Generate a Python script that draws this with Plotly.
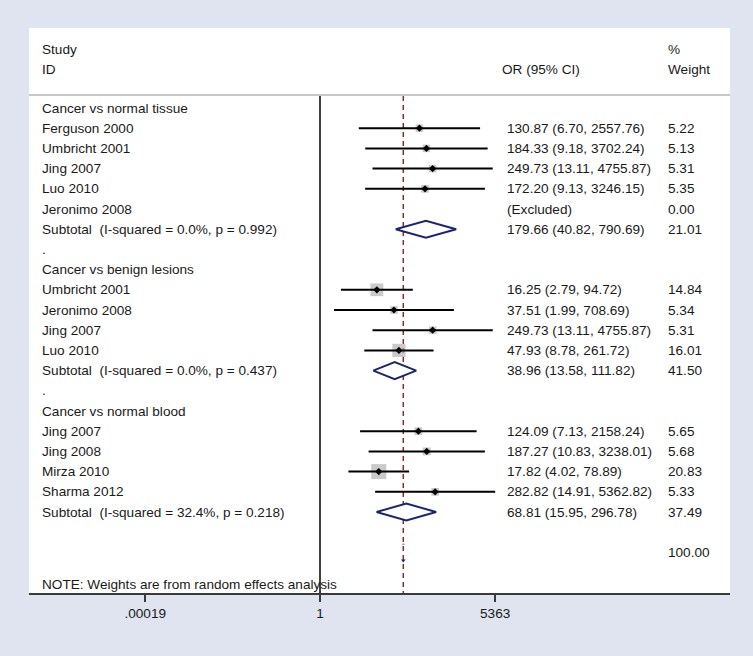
import math
import plotly.graph_objects as go

# ---------------- data ----------------
row_labels = [
    "Cancer vs normal tissue", "Ferguson 2000", "Umbricht 2001", "Jing 2007", "Luo 2010",
    "Jeronimo 2008", "Subtotal\u00a0 (I-squared = 0.0%, p = 0.992)", ".",
    "Cancer vs benign lesions", "Umbricht 2001", "Jeronimo 2008", "Jing 2007", "Luo 2010",
    "Subtotal\u00a0 (I-squared = 0.0%, p = 0.437)", ".",
    "Cancer vs normal blood", "Jing 2007", "Jing 2008", "Mirza 2010", "Sharma 2012",
    "Subtotal\u00a0 (I-squared = 32.4%, p = 0.218)", "", "",
]
row_types = [
    "head", "study", "study", "study", "study", "excl", "sub", "dot",
    "head", "study", "study", "study", "study", "sub", "dot",
    "head", "study", "study", "study", "study", "sub", "blank", "overall",
]
or_es = [None, 130.87, 184.33, 249.73, 172.20, None, 179.66, None,
         None, 16.25, 37.51, 249.73, 47.93, 38.96, None,
         None, 124.09, 187.27, 17.82, 282.82, 68.81, None, 59.3]
or_lci = [None, 6.70, 9.18, 13.11, 9.13, None, 40.82, None,
          None, 2.79, 1.99, 13.11, 8.78, 13.58, None,
          None, 7.13, 10.83, 4.02, 14.91, 15.95, None, None]
or_uci = [None, 2557.76, 3702.24, 4755.87, 3246.15, None, 790.69, None,
          None, 94.72, 708.69, 4755.87, 261.72, 111.82, None,
          None, 2158.24, 3238.01, 78.89, 5362.82, 296.78, None, None]
ci_text = ["", "130.87 (6.70, 2557.76)", "184.33 (9.18, 3702.24)", "249.73 (13.11, 4755.87)",
           "172.20 (9.13, 3246.15)", "(Excluded)", "179.66 (40.82, 790.69)", "",
           "", "16.25 (2.79, 94.72)", "37.51 (1.99, 708.69)", "249.73 (13.11, 4755.87)",
           "47.93 (8.78, 261.72)", "38.96 (13.58, 111.82)", "",
           "", "124.09 (7.13, 2158.24)", "187.27 (10.83, 3238.01)", "17.82 (4.02, 78.89)",
           "282.82 (14.91, 5362.82)", "68.81 (15.95, 296.78)", "", ""]
weights = [None, 5.22, 5.13, 5.31, 5.35, 0.00, 21.01, None,
           None, 14.84, 5.34, 5.31, 16.01, 41.50, None,
           None, 5.65, 5.68, 20.83, 5.33, 37.49, None, 100.00]
tick_vals = [0.00019, 1, 5363]
tick_text = [".00019", "1", "5363"]
note_text = "NOTE: Weights are from random effects analysis"

# ---------------- styling / layout constants ----------------
W, H = 753, 656
L, R, T, B = 29, 730, 28, 593
FONT = "Liberation Sans, Arial, sans-serif"
FS = 13.6
TXT = "#1a1a1a"
NAVY = "#1c2574"
MAROON = "#8b2a2a"
BG = "#dfe4f0"

# x axis range (log10), pixel 320 is OR=1, 20.40 px per ln unit
px_per_ln = 20.40
x_one_px = 320
xr = [((L - x_one_px) / px_per_ln) / math.log(10), ((R - x_one_px) / px_per_ln) / math.log(10)]
# y: row i at 108 + 20.2*i
row0, drow = 108, 20.2
def ypx_to_row(p):
    return (p - row0) / drow
yr = [ypx_to_row(B), ypx_to_row(T)]

def px(xp):
    return (xp - L) / (R - L)

n = len(row_labels)
rows = list(range(n))

fig = go.Figure()

# separator top of bracket & vertical lines
y_sep = ypx_to_row(95)
fig.add_trace(go.Scatter(x=[1, 1], y=[y_sep, yr[0]], mode="lines",
                         line=dict(color="black", width=1.5), hoverinfo="skip", showlegend=False))
overall = or_es[-1]
fig.add_trace(go.Scatter(x=[overall, overall], y=[y_sep + 0.05, yr[0]], mode="lines",
                         line=dict(color=MAROON, width=1.5, dash="5px,4px"),
                         hoverinfo="skip", showlegend=False))

# gray weight squares
sq_x, sq_y, sq_s = [], [], []
for i in rows:
    if row_types[i] == "study":
        sq_x.append(or_es[i]); sq_y.append(i); sq_s.append(3.3 * math.sqrt(weights[i]))
fig.add_trace(go.Scatter(x=sq_x, y=sq_y, mode="markers",
                         marker=dict(symbol="square", size=sq_s, color="#b4b4b4", line=dict(width=0)),
                         hoverinfo="skip", showlegend=False))

# CI lines
lx, ly = [], []
for i in rows:
    if row_types[i] == "study":
        lx += [or_lci[i], or_uci[i], None]; ly += [i, i, None]
fig.add_trace(go.Scatter(x=lx, y=ly, mode="lines", line=dict(color="black", width=2),
                         hoverinfo="skip", showlegend=False))

# point estimates
fig.add_trace(go.Scatter(x=sq_x, y=sq_y, mode="markers",
                         marker=dict(symbol="diamond", size=5.5, color="black"),
                         hoverinfo="skip", showlegend=False))

# subtotal diamonds
half = 0.42
for i in rows:
    if row_types[i] == "sub":
        fig.add_trace(go.Scatter(
            x=[or_lci[i], or_es[i], or_uci[i], or_es[i], or_lci[i]],
            y=[i, i - half, i, i + half, i],
            mode="lines", line=dict(color=NAVY, width=2), fill="toself", fillcolor="white",
            hoverinfo="skip", showlegend=False))

# overall diamond remnants (tiny tips)
oi = n - 1
fig.add_trace(go.Scatter(x=[overall], y=[oi + 0.4], mode="markers",
                         marker=dict(symbol="triangle-down", size=4, color=NAVY),
                         hoverinfo="skip", showlegend=False))
fig.add_trace(go.Scatter(x=[overall], y=[oi - 0.4], mode="markers",
                         marker=dict(symbol="triangle-up", size=3, color="#9aa0c8"),
                         hoverinfo="skip", showlegend=False))

ann = []
def add_text(x, y, t, xa="left"):
    ann.append(dict(x=x, y=y, xref="paper", yref="y", text=t, showarrow=False,
                    xanchor=xa, yanchor="middle", font=dict(family=FONT, size=FS, color=TXT)))

# headers
add_text(px(40), ypx_to_row(49), "Study")
add_text(px(40), ypx_to_row(69), "ID")
add_text(px(500), ypx_to_row(69), "OR (95% CI)")
add_text(px(666), ypx_to_row(49), "%")
add_text(px(666), ypx_to_row(69), "Weight")

for i in rows:
    if row_labels[i]:
        add_text(px(40), i, row_labels[i])
    if ci_text[i]:
        add_text(px(505), i, ci_text[i])
    if weights[i] is not None:
        add_text(px(666), i, f"{weights[i]:.2f}")

add_text(px(40), ypx_to_row(584), note_text)

fig.update_layout(
    width=W, height=H,
    margin=dict(l=L, r=W - R, t=T, b=H - B, pad=0),
    paper_bgcolor=BG, plot_bgcolor="white",
    annotations=ann,
    shapes=[dict(type="line", xref="paper", yref="y", x0=0, x1=1, y0=y_sep, y1=y_sep,
                 line=dict(color="#c8c8c8", width=2))],
    xaxis=dict(type="log", range=xr, autorange=False, showgrid=False, zeroline=False,
               showline=True, linecolor="#3a3a3a", linewidth=2,
               tickmode="array", tickvals=tick_vals, ticktext=tick_text,
               ticks="outside", ticklen=7, tickwidth=1.5, tickcolor="#3a3a3a",
               tickfont=dict(family=FONT, size=FS, color=TXT), fixedrange=True),
    yaxis=dict(range=yr, autorange=False, visible=False, fixedrange=True),
    showlegend=False,
)

fig.write_html("out.html", config={"displayModeBar": False},
               post_script="document.body.style.margin='0';document.body.style.padding='0';")
